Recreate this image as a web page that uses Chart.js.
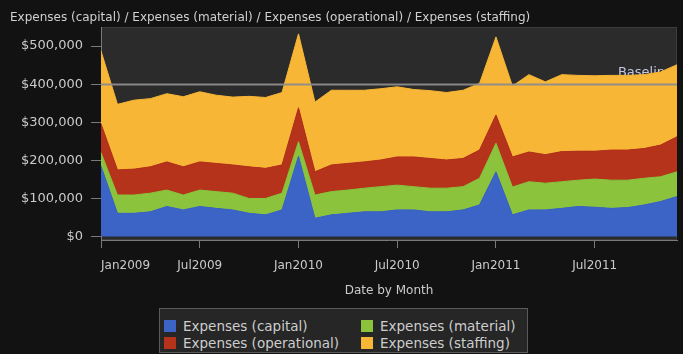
<!DOCTYPE html>
<html>
<head>
<meta charset="utf-8">
<script src="https://cdn.jsdelivr.net/npm/chart.js@4/dist/chart.umd.min.js"></script>
<style>
  html, body { margin: 0; padding: 0; background: #121212; }
  #wrap { position: relative; width: 683px; height: 354px; overflow: hidden; }
  #chart { position: absolute; left: 0; top: 0; }
  #legend {
    position: absolute; left: 159px; top: 308px; width: 369px; height: 45px;
    box-sizing: border-box; border: 1px solid #5a5a5a; background: #262626;
    display: grid; grid-template-columns: 197px 160px; grid-auto-rows: 17px;
    padding: 8px 0 0 4px;
    font-family: "DejaVu Sans", sans-serif; font-size: 13.5px; color: #cdcdcd;
  }
  #legend .item { display: flex; align-items: center; white-space: nowrap; }
  #legend .sw { width: 12px; height: 12px; margin-right: 7px; flex: none; }
</style>
</head>
<body>
<div id="wrap">
  <canvas id="chart" width="683" height="354"></canvas>
  <div id="legend"></div>
</div>
<script>
// Monthly categories
const months = [
  'Jan2009','Feb2009','Mar2009','Apr2009','May2009','Jun2009',
  'Jul2009','Aug2009','Sep2009','Oct2009','Nov2009','Dec2009',
  'Jan2010','Feb2010','Mar2010','Apr2010','May2010','Jun2010',
  'Jul2010','Aug2010','Sep2010','Oct2010','Nov2010','Dec2010',
  'Jan2011','Feb2011','Mar2011','Apr2011','May2011','Jun2011',
  'Jul2011','Aug2011','Sep2011','Oct2011','Nov2011','Dec2011'
];

// Expense series (USD per month)
const capital = [
  185000, 61000, 61000, 65000, 79000, 70000, 79000, 74000, 70000, 61000, 57000, 70000,
  211000, 48000, 57000, 61000, 65000, 65000, 70000, 70000, 65000, 65000, 70000, 83000,
  170000, 57000, 70000, 70000, 74000, 79000, 77000, 74000, 76000, 83000, 92000, 105000
];
const material = [
  35000, 48000, 48000, 49000, 43000, 39000, 43000, 44000, 44000, 39000, 43000, 44000,
  38000, 61000, 61000, 61000, 62000, 66000, 65000, 61000, 62000, 62000, 61000, 70000,
  75000, 73000, 74000, 70000, 70000, 69000, 74000, 74000, 72000, 70000, 65000, 65000
];
const operational = [
  76000, 66000, 68000, 69000, 74000, 74000, 74000, 74000, 74000, 83000, 79000, 74000,
  89000, 61000, 70000, 70000, 69000, 70000, 74000, 78000, 78000, 74000, 74000, 74000,
  74000, 79000, 78000, 75000, 79000, 76000, 73000, 79000, 79000, 78000, 83000, 92000
];
const staffing = [
  191000, 172000, 181000, 179000, 179000, 184000, 184000, 179000, 178000, 185000, 186000, 190000,
  194000, 183000, 196000, 192000, 188000, 187000, 184000, 177000, 178000, 177000, 179000, 175000,
  205000, 186000, 203000, 191000, 202000, 199000, 198000, 196000, 196000, 194000, 192000, 189000
];

const BASELINE = 400000;
const yTickValues = [0, 100000, 200000, 300000, 400000, 500000];
const xTickMonths = ['Jan2009', 'Jul2009', 'Jan2010', 'Jul2010', 'Jan2011', 'Jul2011'];

const FONT = '"DejaVu Sans", sans-serif';
const TEXT = '#cbcbcb';
const AXIS = '#7a7a7a';

const series = [
  { label: 'Expenses (capital)',     data: capital,     color: '#3c64c6' },
  { label: 'Expenses (material)',    data: material,    color: '#8bc43c' },
  { label: 'Expenses (operational)', data: operational, color: '#b5321b' },
  { label: 'Expenses (staffing)',    data: staffing,    color: '#f7b636' }
];

// dark plot panel behind the stacked areas
const panelPlugin = {
  id: 'panel',
  beforeDraw(chart) {
    const { ctx, chartArea: a } = chart;
    ctx.save();
    ctx.fillStyle = '#2b2b2b';
    ctx.fillRect(a.left, a.top, a.right - a.left, a.bottom - a.top);
    ctx.strokeStyle = '#3c3c3c';
    ctx.lineWidth = 1;
    ctx.strokeRect(a.left + 0.5, a.top + 0.5, a.right - a.left - 1, a.bottom - a.top - 1);
    ctx.restore();
  }
};

// horizontal reference line; its caption sits behind the areas, the line on top
const baselinePlugin = {
  id: 'baseline',
  beforeDatasetsDraw(chart) {
    const { ctx, chartArea: a, scales } = chart;
    const y = Math.round(scales.y.getPixelForValue(BASELINE)) + 0.5;
    ctx.save();
    ctx.fillStyle = '#c4c6e2';
    ctx.font = '13px ' + FONT;
    ctx.textAlign = 'right';
    ctx.textBaseline = 'middle';
    ctx.fillText('Baseline', a.right - 4, y - 12);
    ctx.restore();
  },
  afterDatasetsDraw(chart) {
    const { ctx, chartArea: a, scales } = chart;
    const y = Math.round(scales.y.getPixelForValue(BASELINE)) + 0.5;
    ctx.save();
    ctx.strokeStyle = 'rgba(140,140,140,0.95)';
    ctx.lineWidth = 2;
    ctx.beginPath();
    ctx.moveTo(a.left, y);
    ctx.lineTo(a.right, y);
    ctx.stroke();
    ctx.restore();
  }
};

const chart = new Chart(document.getElementById('chart'), {
  type: 'line',
  data: {
    labels: months,
    datasets: series.map((s, i) => ({
      label: s.label,
      data: s.data,
      backgroundColor: s.color,
      borderColor: s.color,
      borderWidth: 1,
      pointRadius: 0,
      tension: 0,
      fill: i === 0 ? 'origin' : '-1'
    }))
  },
  options: {
    responsive: false,
    animation: false,
    events: [],
    layout: { padding: { left: 10, right: 6, top: 0, bottom: 54 } },
    plugins: {
      legend: { display: false },
      tooltip: { enabled: false },
      title: {
        display: true,
        text: 'Expenses (capital) / Expenses (material) / Expenses (operational) / Expenses (staffing)',
        align: 'start',
        color: '#d0d0d0',
        font: { family: FONT, size: 12, weight: 'normal', lineHeight: 1.2 },
        padding: { top: 10.5, bottom: 2.1 }
      }
    },
    scales: {
      x: {
        type: 'category',
        offset: false,
        border: { display: true, color: AXIS, width: 1 },
        grid: {
          display: true,
          drawOnChartArea: false,
          drawTicks: true,
          tickLength: 8,
          offset: false,
          color: AXIS,
          tickColor: (ctx) => xTickMonths.includes(months[ctx.index]) ? AXIS : 'rgba(0,0,0,0)'
        },
        ticks: {
          autoSkip: false,
          maxRotation: 0,
          align: 'inner',
          padding: 11,
          color: TEXT,
          font: { family: FONT, size: 12 },
          callback(value) {
            const lbl = this.getLabelForValue(value);
            return xTickMonths.includes(lbl) ? lbl : '';
          }
        },
        title: {
          display: true,
          text: 'Date by Month',
          color: TEXT,
          font: { family: FONT, size: 12, lineHeight: 1.2 },
          padding: { top: 0, bottom: 2 }
        },
        afterFit(scale) {
          scale.height = 60;
          scale.paddingLeft = 0;
          scale.paddingRight = 0;
        }
      },
      y: {
        stacked: true,
        min: -9000,
        max: 550000,
        border: { display: true, color: AXIS, width: 1 },
        grid: {
          display: true,
          drawOnChartArea: false,
          drawTicks: true,
          tickLength: 10,
          color: AXIS
        },
        ticks: {
          stepSize: 100000,
          padding: 8,
          color: TEXT,
          font: { family: FONT, size: 13 },
          callback: (v) => '$' + Number(v).toLocaleString('en-US')
        },
        afterBuildTicks(scale) {
          scale.ticks = yTickValues.map(v => ({ value: v }));
        },
        afterFit(scale) {
          scale.width = 91;
        }
      }
    }
  },
  plugins: [panelPlugin, baselinePlugin]
});

// legend built from the chart's datasets, laid out in two columns
const legendEl = document.getElementById('legend');
chart.data.datasets.forEach(ds => {
  const item = document.createElement('div');
  item.className = 'item';
  const sw = document.createElement('span');
  sw.className = 'sw';
  sw.style.background = ds.backgroundColor;
  const txt = document.createElement('span');
  txt.textContent = ds.label;
  item.appendChild(sw);
  item.appendChild(txt);
  legendEl.appendChild(item);
});
</script>
</body>
</html>
